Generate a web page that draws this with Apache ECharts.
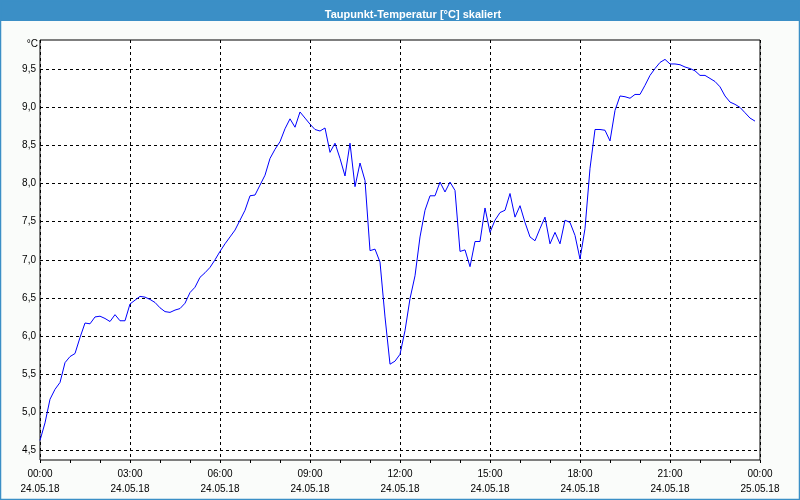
<!DOCTYPE html>
<html>
<head>
<meta charset="utf-8">
<script src="https://cdn.jsdelivr.net/npm/echarts@6/dist/echarts.min.js"></script>
<style>
html,body{margin:0;padding:0;background:#FAFCFA;}
#chart{width:800px;height:500px;}
</style>
</head>
<body>
<div id="chart"></div>
<script>
const titleText = 'Taupunkt-Temperatur [°C] skaliert';
const yUnit = '°C';
const stepMinutes = 10;
// dew point values, 10-minute steps starting 24.05.18 00:00
const dewPoint = [
  4.63, 4.86, 5.17, 5.30, 5.39, 5.65, 5.73, 5.77, 5.98, 6.17,
  6.16, 6.25, 6.26, 6.23, 6.19, 6.28, 6.20, 6.20, 6.42, 6.47,
  6.52, 6.51, 6.48, 6.44, 6.37, 6.32, 6.31, 6.34, 6.36, 6.43,
  6.57, 6.64, 6.77, 6.83, 6.90, 7.00, 7.11, 7.21, 7.30, 7.39,
  7.52, 7.65, 7.84, 7.85, 7.98, 8.11, 8.33, 8.45, 8.55, 8.72,
  8.85, 8.74, 8.94, 8.86, 8.78, 8.71, 8.69, 8.73, 8.41, 8.53,
  8.33, 8.10, 8.53, 7.96, 8.27, 8.04, 7.12, 7.14, 6.97, 6.25,
  5.63, 5.67, 5.76, 6.07, 6.49, 6.79, 7.30, 7.65, 7.84, 7.84,
  8.02, 7.89, 8.02, 7.91, 7.11, 7.13, 6.91, 7.24, 7.24, 7.68,
  7.36, 7.52, 7.62, 7.65, 7.87, 7.56, 7.71, 7.49, 7.30, 7.25,
  7.41, 7.56, 7.21, 7.36, 7.21, 7.52, 7.49, 7.32, 7.01, 7.41,
  8.20, 8.71, 8.71, 8.70, 8.56, 8.96, 9.15, 9.14, 9.12, 9.17,
  9.17, 9.29, 9.42, 9.51, 9.59, 9.63, 9.57, 9.57, 9.56, 9.53,
  9.51, 9.48, 9.42, 9.42, 9.38, 9.34, 9.27, 9.15, 9.07, 9.04,
  9.00, 8.93, 8.86, 8.82
];
const xTickTimes = ['00:00','03:00','06:00','09:00','12:00','15:00','18:00','21:00','00:00'];
const xTickDates = ['24.05.18','24.05.18','24.05.18','24.05.18','24.05.18','24.05.18','24.05.18','24.05.18','25.05.18'];
const yTickValues = [4.5, 5.0, 5.5, 6.0, 6.5, 7.0, 7.5, 8.0, 8.5, 9.0, 9.5];
const yTickLabels = ['4,5','5,0','5,5','6,0','6,5','7,0','7,5','8,0','8,5','9,0','9,5'];

const FONT = 'Liberation Sans';
const chart = echarts.init(document.getElementById('chart'), null, {renderer: 'canvas'});
const data = dewPoint.map((v, i) => [i * stepMinutes, v]);
const xSpan = (xTickTimes.length - 1) * 180;

chart.setOption({
  backgroundColor: '#FAFCFA',
  animation: false,
  title: {
    text: titleText,
    left: 408, top: 4, textAlign: 'center',
    textStyle: {color: '#ffffff', fontSize: 11, fontWeight: 'bold', fontFamily: FONT}
  },
  graphic: [
    {type: 'rect', z: -5, shape: {x: 0, y: 0, width: 800, height: 21}, style: {fill: '#3B8FC6'}},
    {type: 'rect', z: -5, shape: {x: 0.5, y: 0.5, width: 799, height: 499}, style: {fill: null, stroke: '#3B8FC6', lineWidth: 1.5}}
  ],
  grid: [
    {left: 40, right: 40, top: 69.3, bottom: 49.7, show: false},
    {left: 40, right: 40, top: 40, bottom: 40, show: true, backgroundColor: '#ffffff', borderColor: '#000000', borderWidth: 1}
  ],
  xAxis: [
    {type: 'value', gridIndex: 0, min: 0, max: xSpan, show: false},
    {type: 'value', gridIndex: 1, min: 0, max: xSpan, interval: 180,
      axisLine: {show: false},
      axisTick: {show: true, length: 3, lineStyle: {color: '#000'}},
      minorTick: {show: true, splitNumber: 3, length: 3, lineStyle: {color: '#000'}},
      splitLine: {show: true, lineStyle: {color: '#000', type: [3, 3], width: 1}},
      axisLabel: {
        margin: 7, color: '#000', fontSize: 10, fontFamily: FONT, lineHeight: 15,
        formatter: v => { const i = Math.round(v / 180); return xTickTimes[i] + '\n' + xTickDates[i]; }
      }
    }
  ],
  yAxis: [
    {type: 'value', gridIndex: 0, min: yTickValues[0], max: yTickValues[yTickValues.length - 1], interval: 0.5,
      name: yUnit, nameLocation: 'end', nameGap: 25,
      nameTextStyle: {color: '#000', fontSize: 10, fontFamily: FONT, align: 'right', verticalAlign: 'middle', padding: [0, 2, 0, 0]},
      axisLine: {show: false}, axisTick: {show: false},
      splitLine: {show: true, lineStyle: {color: '#000', type: [3, 3], width: 1}},
      axisLabel: {
        margin: 4, color: '#000', fontSize: 10, fontFamily: FONT,
        formatter: v => { const i = yTickValues.findIndex(t => Math.abs(t - v) < 1e-6); return i >= 0 ? yTickLabels[i] : ''; }
      }
    },
    {type: 'value', gridIndex: 1, show: false, min: 0, max: 1}
  ],
  series: [{
    type: 'line', xAxisIndex: 0, yAxisIndex: 0, data: data,
    clip: false, showSymbol: false, symbol: 'none',
    lineStyle: {color: '#0000FF', width: 1}, z: 5
  }]
});
</script>
</body>
</html>
